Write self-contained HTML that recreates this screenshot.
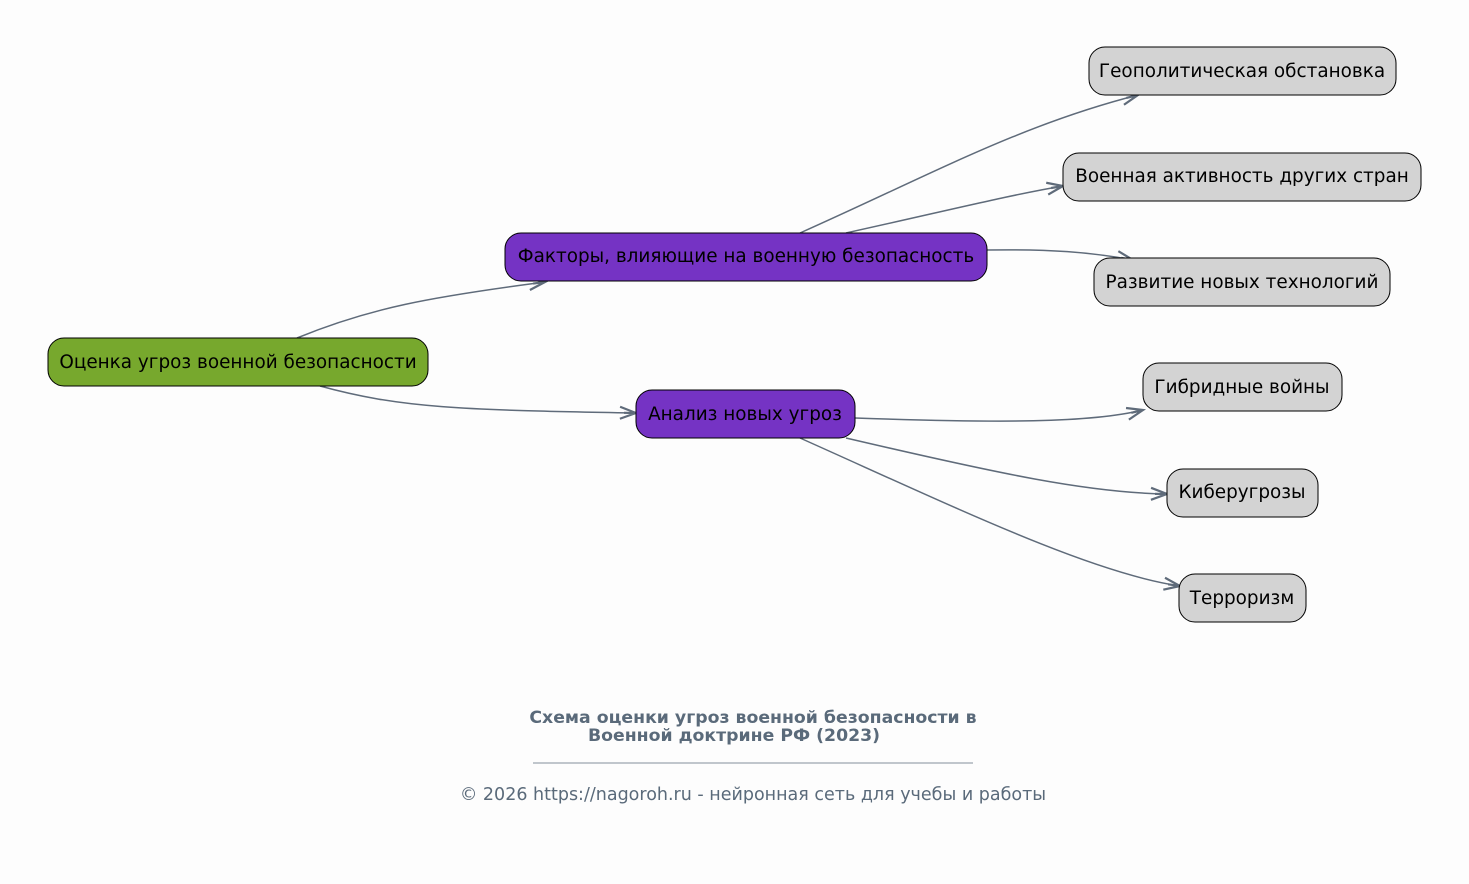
<!DOCTYPE html>
<html><head><meta charset="utf-8"><style>
html,body{margin:0;padding:0;background:#fdfdfd;}
svg text{font-family:"DejaVu Sans","Liberation Sans",sans-serif;}
</style></head><body>
<svg width="1469" height="879" viewBox="0 0 1469 879" xmlns="http://www.w3.org/2000/svg">
<defs>
<marker id="a" markerWidth="22" markerHeight="16" refX="18" refY="8" orient="auto" markerUnits="userSpaceOnUse">
<path d="M2,2 L18,8 L2,14 M18,8 L6,8" fill="none" stroke="#5f6b7a" stroke-width="2.2"/>
</marker>
</defs>
<rect width="1469" height="879" fill="#fdfdfd"/>
<g fill="none" stroke="#5f6b7a" stroke-width="1.5" marker-end="url(#a)">
<path d="M297,338 C370,308 430,297 545,282"/>
<path d="M320,386 C400,408 460,410 636,413"/>
<path d="M800,233 C930,175 1020,125 1138,95"/>
<path d="M846,233 C950,210 1010,195 1063,186"/>
<path d="M987,250 C1050,249 1090,252 1133,260"/>
<path d="M855,418 C1000,423 1090,423 1143,410"/>
<path d="M846,438 C1000,474 1090,493 1167,494"/>
<path d="M800,438 C950,505 1090,573 1180,586"/>
</g>
<g stroke="#000" stroke-width="1">
<rect x="48" y="338" width="380" height="48" rx="16" fill="#77a82d"/>
<rect x="505" y="233" width="482" height="48" rx="16" fill="#7533c4"/>
<rect x="636" y="390" width="219" height="48" rx="16" fill="#7533c4"/>
<rect x="1089" y="47" width="307" height="48" rx="16" fill="#d3d3d3"/>
<rect x="1063" y="153" width="358" height="48" rx="16" fill="#d3d3d3"/>
<rect x="1094" y="258" width="296" height="48" rx="16" fill="#d3d3d3"/>
<rect x="1143" y="363" width="199" height="48" rx="16" fill="#d3d3d3"/>
<rect x="1167" y="469" width="151" height="48" rx="16" fill="#d3d3d3"/>
<rect x="1179" y="574" width="127" height="48" rx="16" fill="#d3d3d3"/>
</g>
<g font-size="18.4" fill="#000" text-anchor="middle">
<text x="238" y="368">Оценка угроз военной безопасности</text>
<text x="746" y="262">Факторы, влияющие на военную безопасность</text>
<text x="745" y="420">Анализ новых угроз</text>
<text x="1242" y="77">Геополитическая обстановка</text>
<text x="1242" y="182">Военная активность других стран</text>
<text x="1242" y="288">Развитие новых технологий</text>
<text x="1242" y="393">Гибридные войны</text>
<text x="1242" y="498">Киберугрозы</text>
<text x="1242" y="604">Терроризм</text>
</g>
<g fill="#5a6a7a" text-anchor="middle">
<text x="753" y="723" font-size="17.3" font-weight="bold">Схема оценки угроз военной безопасности в</text>
<text x="734" y="741" font-size="17.3" font-weight="bold">Военной доктрине РФ (2023)</text>
<line x1="533" y1="763" x2="973" y2="763" stroke="#5a6a7a" stroke-width="0.8"/>
<text x="753" y="800" font-size="17.5">© 2026 https://nagoroh.ru - нейронная сеть для учебы и работы</text>
</g>
</svg>
</body></html>
